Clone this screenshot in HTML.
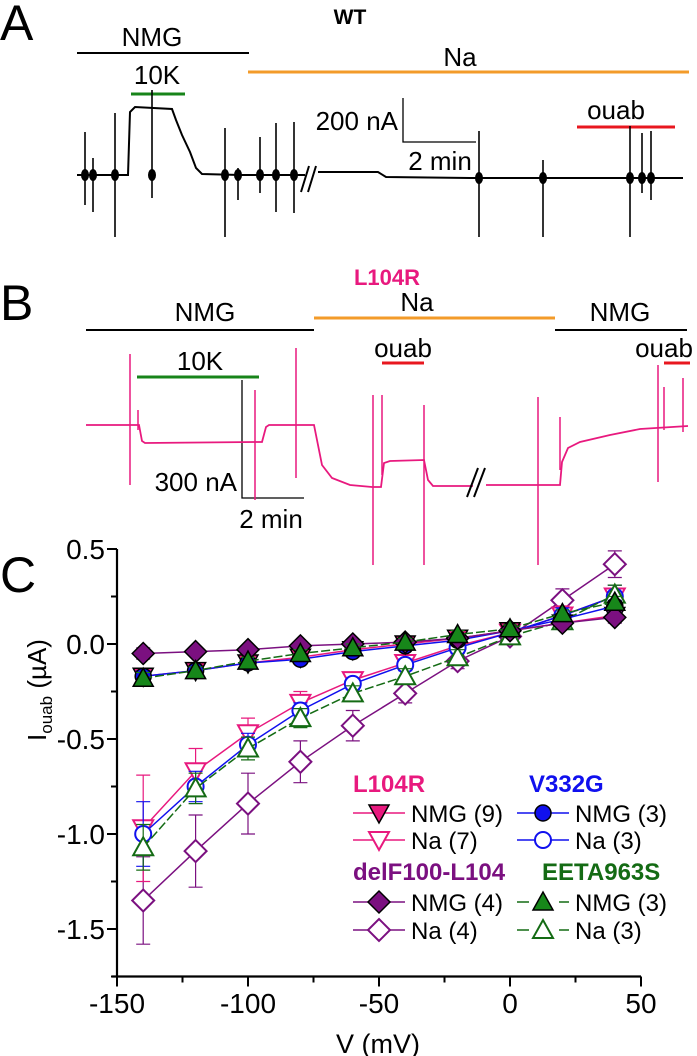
<!DOCTYPE html>
<html><head><meta charset="utf-8"><style>
html,body{margin:0;padding:0;background:#fff;}
svg{display:block;font-family:"Liberation Sans",Arial,sans-serif;}
</style></head><body>
<svg id="fig" width="697" height="1056" viewBox="0 0 697 1056" xmlns="http://www.w3.org/2000/svg">
<!-- Panel A -->
<g>
<text x="0" y="40" font-size="50">A</text>
<text x="350" y="24" font-size="21" font-weight="bold" text-anchor="middle">WT</text>
<line x1="77" y1="53" x2="249" y2="53" stroke="#000" stroke-width="2"/>
<text x="152" y="46" font-size="26" text-anchor="middle">NMG</text>
<line x1="248" y1="72" x2="689" y2="72" stroke="#f39b2a" stroke-width="3"/>
<text x="460" y="66" font-size="26" text-anchor="middle">Na</text>
<line x1="131" y1="94" x2="185" y2="94" stroke="#17841a" stroke-width="3"/>
<text x="157" y="84" font-size="26" text-anchor="middle">10K</text>
<line x1="577" y1="127" x2="675" y2="127" stroke="#e8171f" stroke-width="3"/>
<text x="616" y="119" font-size="26" text-anchor="middle">ouab</text>
<path d="M403 98 V142 H476" fill="none" stroke="#000" stroke-width="1.3"/>
<text x="398" y="130" font-size="26" text-anchor="end">200 nA</text>
<text x="440" y="170" font-size="26" text-anchor="middle">2 min</text>
<path id="traceA" fill="none" stroke="#000" stroke-width="2"
 d="M77 175 L128 175 L130 112 L135 107 L172 109 L176 120 L182 135 L190 152 L196 168 L202 174 L240 175 L305 175 M318 172 L378 172 L386 177 L470 178 L683 178"/>
<path d="M301 192 L309 166 M308 192 L316 166" stroke="#000" stroke-width="2"/>
<g id="spikesA" stroke="#000" stroke-width="1.6"></g>
</g>
<!-- Panel B -->
<g>
<text x="0" y="320" font-size="50">B</text>
<text x="387" y="285" font-size="22" font-weight="bold" fill="#e8197e" text-anchor="middle">L104R</text>
<line x1="86" y1="330" x2="314" y2="330" stroke="#000" stroke-width="2"/>
<text x="205" y="321" font-size="26" text-anchor="middle">NMG</text>
<line x1="314" y1="318" x2="555" y2="318" stroke="#f39b2a" stroke-width="3"/>
<text x="417" y="311" font-size="26" text-anchor="middle">Na</text>
<line x1="555" y1="330" x2="687" y2="330" stroke="#000" stroke-width="2"/>
<text x="620" y="321" font-size="26" text-anchor="middle">NMG</text>
<line x1="137" y1="377" x2="259" y2="377" stroke="#17841a" stroke-width="3"/>
<text x="200" y="370" font-size="26" text-anchor="middle">10K</text>
<line x1="382" y1="363" x2="424" y2="363" stroke="#e8171f" stroke-width="3"/>
<text x="403" y="357" font-size="26" text-anchor="middle">ouab</text>
<line x1="664" y1="363" x2="690" y2="363" stroke="#e8171f" stroke-width="3"/>
<text x="664" y="357" font-size="26" text-anchor="middle">ouab</text>
<path d="M242 380 V498 H304" fill="none" stroke="#000" stroke-width="1.3"/>
<text x="237" y="491" font-size="26" text-anchor="end">300 nA</text>
<text x="271" y="528" font-size="26" text-anchor="middle">2 min</text>
<path fill="none" stroke="#e8197e" stroke-width="1.8"
 d="M86 425 L139 425 L142 441 L145 443 L255 442 L262 442 L266 427 L269 425 L314 425 L317 440 L322 465 L332 478 L350 485 L372 487 L381 487 L384 463 L390 461 L424 460 L428 480 L433 486 L473 486 M486 485 L560 485 L562 462 L568 448 L580 442 L610 435 L640 429 L688 426"/>
<path d="M467 497 L478 468 M474 497 L485 468" stroke="#000" stroke-width="2"/>
<g id="spikesB" stroke="#e8197e" stroke-width="1.5"></g>
</g>
<!-- Panel C -->
<g id="panelC">
<text x="0" y="592" font-size="50">C</text>
<text transform="translate(46,690) rotate(-90)" font-size="26" text-anchor="middle">I<tspan font-size="17" dy="6">ouab</tspan><tspan dy="-6"> (µA)</tspan></text>
<text x="378" y="1053" font-size="27" text-anchor="middle">V (mV)</text>
<g id="axes"></g>
<g id="series"></g>
<g id="legend"></g>
</g>
</svg>
<script>
// ---- chart data (Panel C) ----
const voltages = [-140,-120,-100,-80,-60,-40,-20,0,20,40];
const l104rNmg = [-0.17,-0.14,-0.10,-0.07,-0.03,0.00,0.03,0.07,0.11,0.15];
const l104rNa  = [-0.97,-0.67,-0.47,-0.31,-0.19,-0.10,-0.01,0.06,0.15,0.25];
const v332gNmg = [-0.17,-0.14,-0.10,-0.08,-0.04,-0.01,0.02,0.07,0.13,0.20];
const v332gNa  = [-1.00,-0.75,-0.53,-0.35,-0.21,-0.11,-0.02,0.06,0.15,0.25];
const delfNmg  = [-0.05,-0.04,-0.03,-0.01,0.00,0.01,0.03,0.07,0.11,0.14];
const delfNa   = [-1.35,-1.09,-0.84,-0.62,-0.43,-0.26,-0.09,0.04,0.23,0.42];
const eetaNmg  = [-0.18,-0.14,-0.09,-0.05,-0.02,0.01,0.05,0.08,0.16,0.22];
const eetaNa   = [-1.07,-0.76,-0.55,-0.39,-0.26,-0.17,-0.07,0.04,0.12,0.26];
const l104rNaErr = [0.28,0.12,0.08,0.06,0.04,0.03,0.03,0.03,0.05,0.06];
const v332gNaErr = [0.17,0.08,0.06,0.04,0.03,0.03,0.03,0.03,0.04,0.06];
const delfNaErr  = [0.23,0.19,0.16,0.11,0.08,0.05,0.04,0.03,0.06,0.07];
const eetaNaErr  = [0.12,0.08,0.06,0.05,0.04,0.04,0.04,0.04,0.04,0.05];
const nmgErr     = [0.03,0.02,0.02,0.02,0.02,0.02,0.02,0.02,0.02,0.03];
const xTicks = [-150,-100,-50,0,50];
const yTicks = [0.5,0.0,-0.5,-1.0,-1.5];
const yTickLabels = ["0.5","0.0","-0.5","-1.0","-1.5"];

// trace spikes panels A/B (x, top, bottom)
const spikesAX = [85,93,115,152,225,238,260,276,294,479,543,630,642,651];
const spikesATop=[132,158,113,90,128,168,137,123,122,131,160,126,133,131];
const spikesABot=[205,212,237,198,237,200,193,212,213,237,237,237,193,200];
const spikesBX = [130,138,255,296,373,382,424,538,560,658,664,683];
const spikesBTop=[354,410,390,348,395,395,405,397,417,365,387,378];
const spikesBBot=[485,430,500,478,565,475,565,565,470,482,430,432];

const NS="http://www.w3.org/2000/svg";
function mk(tag,attrs,parent){const e=document.createElementNS(NS,tag);for(const k in attrs)e.setAttribute(k,attrs[k]);parent.appendChild(e);return e;}

const gA=document.getElementById('spikesA');
spikesAX.forEach((x,i)=>{const l=mk('line',{x1:x,x2:x,y1:spikesATop[i],y2:spikesABot[i]},gA);


mk('ellipse',{cx:x,cy:x<300?175:178,rx:4,ry:6,fill:'#000',stroke:'none'},gA);});
const gB=document.getElementById('spikesB');
spikesBX.forEach((x,i)=>{const l=mk('line',{x1:x,x2:x,y1:spikesBTop[i],y2:spikesBBot[i]},gB);

});

// axis functions
const X0=117,X1=641,Y0=644,PX=190;
const xS=v=>X0+(v+150)*(X1-X0)/200;
const yS=i=>Y0-i*PX;
const axes=document.getElementById('axes');
const yax=mk('line',{x1:X0,x2:X0,y1:yS(0.5),y2:yS(-1.75),stroke:'#000','stroke-width':2.2},axes);


const xax=mk('line',{x1:X0-5,x2:X1,y1:yS(-1.75),y2:yS(-1.75),stroke:'#000','stroke-width':2.2},axes);


for(let v=-150;v<=50;v+=25){const big=v%50===0;mk('line',{x1:xS(v),x2:xS(v),y1:yS(-1.75),y2:yS(-1.75)+(big?10:6),stroke:'#000','stroke-width':2},axes);}
for(let i=0.5;i>=-1.75;i-=0.25){const big=Math.abs(i*2-Math.round(i*2))<1e-6;mk('line',{x1:X0,x2:X0-(big?10:6),y1:yS(i),y2:yS(i),stroke:'#000','stroke-width':2},axes);}
xTicks.forEach(v=>{const t=mk('text',{x:xS(v),y:1013,'font-size':28,'text-anchor':'middle'},axes);t.textContent=v;

});
yTicks.forEach((v,i)=>{const t=mk('text',{x:X0-12,y:yS(v)+10,'font-size':28,'text-anchor':'end'},axes);t.textContent=yTickLabels[i];

});

function marker(g,shape,cx,cy,color,filled,s){
  const fill=filled?color:'#fff', st=filled?'#000':color, sw=filled?1.5:2;
  let e;
  if(shape==='tri') e=mk('polygon',{points:`${cx-s},${cy+s*0.8} ${cx+s},${cy+s*0.8} ${cx},${cy-s}`,fill,stroke:st,'stroke-width':sw},g);
  else if(shape==='dtri') e=mk('polygon',{points:`${cx-s},${cy-s*0.8} ${cx+s},${cy-s*0.8} ${cx},${cy+s}`,fill,stroke:st,'stroke-width':sw},g);
  else if(shape==='dia') e=mk('polygon',{points:`${cx},${cy-s*1.1} ${cx+s*1.1},${cy} ${cx},${cy+s*1.1} ${cx-s*1.1},${cy}`,fill,stroke:st,'stroke-width':sw},g);
  else e=mk('circle',{cx,cy,r:s*0.8,fill,stroke:st,'stroke-width':sw},g);
  return e;
}
const seriesDefs=[
 {n:'delf-na',vals:delfNa,err:delfNaErr,c:'#7b1080',shape:'dia',f:false,dash:null},
 {n:'l104r-na',vals:l104rNa,err:l104rNaErr,c:'#e8197e',shape:'dtri',f:false,dash:null},
 {n:'v332g-na',vals:v332gNa,err:v332gNaErr,c:'#1010ee',shape:'circ',f:false,dash:null},
 {n:'eeta-na',vals:eetaNa,err:eetaNaErr,c:'#146b14',shape:'tri',f:false,dash:'9,3'},
 {n:'l104r-nmg',vals:l104rNmg,err:nmgErr,c:'#e8197e',shape:'dtri',f:true,dash:null},
 {n:'v332g-nmg',vals:v332gNmg,err:nmgErr,c:'#1010ee',shape:'circ',f:true,dash:null},
 {n:'delf-nmg',vals:delfNmg,err:nmgErr,c:'#7b1080',shape:'dia',f:true,dash:null},
 {n:'eeta-nmg',vals:eetaNmg,err:nmgErr,c:'#17871a',shape:'tri',f:true,dash:'9,3'},
];
const sg=document.getElementById('series');
seriesDefs.forEach(sd=>{
  const g=mk('g',{},sg);
  
  
  const lc=sd.shape==='tri'&&sd.f?'#146b14':sd.c;
  const pts=voltages.map((v,i)=>xS(v)+','+yS(sd.vals[i])).join(' ');
  const pl=mk('polyline',{points:pts,fill:'none',stroke:lc,'stroke-width':1.5},g);
  if(sd.dash)pl.setAttribute('stroke-dasharray',sd.dash);
  voltages.forEach((v,i)=>{
    const x=xS(v),y1=yS(sd.vals[i]+sd.err[i]),y2=yS(sd.vals[i]-sd.err[i]);
    mk('path',{d:`M${x} ${y1} V${y2} M${x-7} ${y1} H${x+7} M${x-7} ${y2} H${x+7}`,stroke:sd.c,'stroke-width':1.2,fill:'none'},g);
  });
  voltages.forEach((v,i)=>{
    const m=marker(g,sd.shape,xS(v),yS(sd.vals[i]),sd.c,sd.f,10);
    
    
  });
});

// legend
const lg=document.getElementById('legend');

const heads=[['L104R',353,792,'#e8197e'],['V332G',529,792,'#1010ee'],['delF100-L104',353,880,'#7b1080'],['EETA963S',542,880,'#146b14']];
heads.forEach(h=>{const t=mk('text',{x:h[1],y:h[2],'font-size':24,'font-weight':'bold',fill:h[3]},lg);t.textContent=h[0];

});
const entries=[
 [353,813,'#e8197e','dtri',true,'NMG (9)',null],[353,840,'#e8197e','dtri',false,'Na (7)',null],
 [517,813,'#1010ee','circ',true,'NMG (3)',null],[517,840,'#1010ee','circ',false,'Na (3)',null],
 [353,902,'#7b1080','dia',true,'NMG (4)',null],[353,930,'#7b1080','dia',false,'Na (4)',null],
 [517,902,'#17871a','tri',true,'NMG (3)','9,5'],[517,930,'#146b14','tri',false,'Na (3)','9,5'],
];
entries.forEach(e=>{
  const g=mk('g',{},lg);
  
  
  const ln=mk('line',{x1:e[0],x2:e[0]+52,y1:e[1],y2:e[1],stroke:e[3]==='tri'?'#146b14':e[2],'stroke-width':1.5},g);
  if(e[6])ln.setAttribute('stroke-dasharray','12,30');
  marker(g,e[3],e[0]+26,e[1],e[2],e[4],10);
  const t=mk('text',{x:e[0]+58,y:e[1]+9,'font-size':24},g);t.textContent=e[5];
});
</script>
</body></html>
